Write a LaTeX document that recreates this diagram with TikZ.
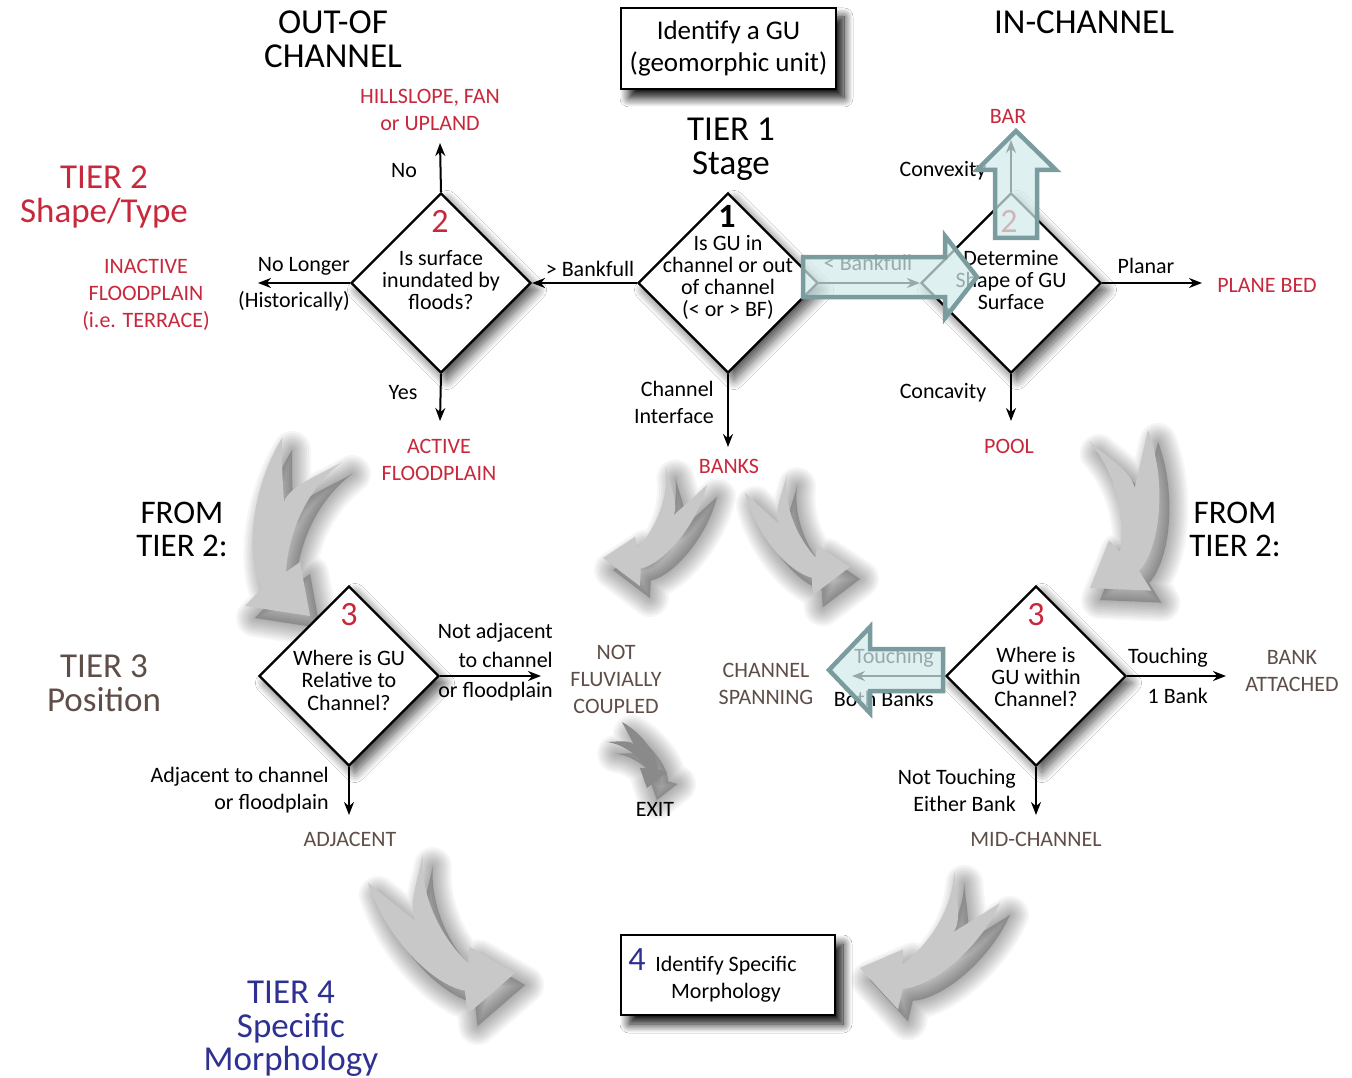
\documentclass[tikz,border=0pt]{standalone}
\usepackage{fontspec}
\setmainfont{Carlito}
\usetikzlibrary{shapes.geometric,arrows.meta,shadows.blur}
\definecolor{gred}{HTML}{C8283C}
\definecolor{gbrown}{HTML}{5F4E47}
\definecolor{gblue}{HTML}{2E3192}
\definecolor{tfill}{HTML}{D4EBEC}
\definecolor{tbord}{HTML}{7B9C9E}
\definecolor{ggrey}{HTML}{C8C8C8}
\definecolor{gdark}{HTML}{8A8A8A}
\newcommand\fs[2]{\fontsize{#1}{#2}\selectfont}
\newcommand\gshape{(0,0) .. controls (-32,52) and (-37,122) .. (-20,150) -- (-37,168) -- (28,178) -- (18,124) -- (4,134) .. controls (6,97) and (23,52) .. (60,24) .. controls (38,37) and (8,47) .. (2,64) .. controls (0,32) .. (0,0) -- cycle}
\newcommand\garrow[6]{%
 \begin{scope}[shift={(#1+10,#2+12)},rotate=#3,scale=#4,xscale=#5]
  \foreach \ww in {38,34,...,2}{\draw[line width=\ww pt,black,opacity=0.035,line join=round]\gshape;}
  \fill[black,opacity=0.2]\gshape;
 \end{scope}
 \begin{scope}[shift={(#1,#2)},rotate=#3,scale=#4,xscale=#5]
  \fill[#6]\gshape;
 \end{scope}}
\begin{document}
\begin{tikzpicture}[x=1pt,y=-1pt,
  lab/.style={inner sep=0pt,font=\fs{22}{27},align=center},
  hd/.style={inner sep=0pt,font=\fs{35}{34},align=center},
  num/.style={inner sep=0pt,font=\fs{34}{34}},
  dia/.style={diamond,draw,line width=2.2pt,fill=white,minimum width=180pt,minimum height=180pt,inner sep=0pt,
    blur shadow={shadow xshift=6pt,shadow yshift=-7pt,shadow blur radius=10pt,shadow blur steps=12,shadow opacity=70}},
  box/.style={rectangle,draw,line width=2.8pt,fill=white,inner sep=2pt,align=center,
    blur shadow={shadow xshift=8pt,shadow yshift=-9pt,shadow blur radius=9pt,shadow blur steps=12,shadow opacity=95}},
  arr/.style={line width=2pt,-{Stealth[length=13pt,width=10pt]}},
  ovl/.style={draw=tbord,line width=4.5pt,fill=tfill,fill opacity=0.72,line join=miter}]
\useasboundingbox (0,0) rectangle (1352,1078);
\fill[white] (0,0) rectangle (1352,1078);

% grey curved arrows
\garrow{282}{438}{0}{1}{1}{ggrey}
\garrow{1148}{430}{-11.2}{0.934}{-1}{ggrey}
\garrow{707}{485}{-46}{0.705}{-1}{ggrey}
\garrow{745}{493}{45.9}{0.713}{1}{ggrey}
\garrow{368}{883}{49.6}{0.957}{1}{ggrey}
\garrow{1000}{903}{-56.2}{0.857}{-1}{ggrey}
\garrow{622}{722}{29.6}{0.392}{-1}{gdark}

% diamonds
\node[dia] (D1) at (728,283) {};
\node[dia] (D2L) at (441,283) {};
\node[dia] (D2R) at (1011,283) {};
\node[dia] (D3L) at (349,676) {};
\node[dia] (D3R) at (1036,676) {};

% boxes
\node[box,minimum width=215pt,minimum height=81pt,font=\fs{27}{32}] (top) at (728.5,48.5) {Identify a GU\\(geomorphic unit)};
\node[box,minimum width=214pt,minimum height=80pt] (bot) at (728,975) {};
\node[inner sep=0pt,font=\fs{34}{34},text=gblue] (n4) at (637,960) {4};
\node[lab] (t4) at (726,979) {Identify Specific\\Morphology};

% diamond texts
\node[num,font=\fs{34}{34}\bfseries] (n1) at (727,216) {1};
\node[lab,font=\fs{22}{22}] (q1) at (728,277) {Is GU in\\channel or out\\of channel\\(< or > BF)};
\node[num,text=gred] (n2L) at (440,221) {2};
\node[lab,font=\fs{22}{22}] (q2L) at (441,280) {Is surface\\inundated by\\floods?};
\node[num,text=gred] (n2R) at (1009,221) {2};
\node[lab,font=\fs{22}{22}] (q2R) at (1011,280) {Determine\\Shape of GU\\Surface};
\node[num,text=gred] (n3L) at (349,615) {3};
\node[lab,font=\fs{22}{22.5}] (q3L) at (349,680) {Where is GU\\Relative to\\Channel?};
\node[num,text=gred] (n3R) at (1036,615) {3};
\node[lab,font=\fs{22}{22}] (q3R) at (1036,677) {Where is\\GU within\\Channel?};

% headings
\node[hd] (hOut) at (333,39) {OUT-OF\\CHANNEL};
\node[hd] (hIn) at (1084,22) {IN-CHANNEL};
\node[hd] (hT1) at (731,149) {TIER 1\\Stage};
\node[hd,text=gred] (hT2) at (104,197) {TIER 2\\Shape/Type};
\node[hd,text=gbrown] (hT3) at (104,683) {TIER 3\\Position};
\node[hd,text=gblue,font=\fs{35}{33.5}] (hT4) at (291,1029) {TIER 4\\Specific\\Morphology};
\node[hd,font=\fs{33}{33}] (fL) at (182,529) {FROM\\TIER 2:};
\node[hd,font=\fs{33}{33}] (fR) at (1235,529) {FROM\\TIER 2:};

% outcome labels
\node[lab,text=gred] (hill) at (430,110) {HILLSLOPE, FAN\\or UPLAND};
\node[lab,text=gred] (inact) at (146,295) {INACTIVE\\FLOODPLAIN\\(i.e. TERRACE)};
\node[lab,text=gred] (act) at (439,460) {ACTIVE\\FLOODPLAIN};
\node[lab,text=gred] (banks) at (729,466) {BANKS};
\node[lab,text=gred] (bar) at (1008,116) {BAR};
\node[lab,text=gred] (plane) at (1267,285) {PLANE BED};
\node[lab,text=gred] (pool) at (1009,446) {POOL};
\node[lab,text=gbrown] (nfc) at (616,679) {NOT\\FLUVIALLY\\COUPLED};
\node[lab,text=gbrown] (span) at (766,684) {CHANNEL\\SPANNING};
\node[lab,text=gbrown] (batt) at (1292,671) {BANK\\ATTACHED};
\node[lab,text=gbrown] (adj) at (350,839) {ADJACENT};
\node[lab,text=gbrown] (mid) at (1036,839) {MID-CHANNEL};
\node[lab] (exit) at (655,809) {EXIT};

% branch labels
\node[lab] (lNo) at (404,171) {No};
\node[lab,anchor=east] (lNoL) at (350,266) {No Longer};
\node[lab,anchor=east] (lHist) at (350,301) {(Historically)};
\node[lab] (lGT) at (590,269) {> Bankfull};
\node[lab] (lYes) at (403,393) {Yes};
\node[lab,align=right,anchor=east] (lCI) at (714,402) {Channel\\Interface};
\node[lab] (lConv) at (943,171) {Convexity};
\node[lab] (lLT) at (868,263) {< Bankfull};
\node[lab] (lPlan) at (1146,266) {Planar};
\node[lab] (lConc) at (943,393) {Concavity};
\node[lab,align=right,anchor=east,font=\fs{22}{29.5}] (lNA) at (553,662) {Not adjacent\\to channel\\or floodplain};
\node[lab,align=right,anchor=east] (lAd) at (329,790) {Adjacent to channel\\or floodplain};
\node[lab,anchor=east] (lT1) at (934,658) {Touching};
\node[lab,anchor=east] (lBB) at (934,699) {Both Banks};
\node[lab,anchor=east] (lT2) at (1208,658) {Touching};
\node[lab,anchor=east] (l1B) at (1208,696) {1 Bank};
\node[lab,align=right,anchor=east] (lNT) at (1016,790) {Not Touching\\Either Bank};

% free ends
\coordinate (e1) at (440,143);
\coordinate (e2) at (258,283);
\coordinate (e3) at (440,421);
\coordinate (e4) at (728,447);
\coordinate (e5) at (1011,140);
\coordinate (e6) at (1202,283);
\coordinate (e7) at (1011,421);
\coordinate (e8) at (541,676);
\coordinate (e9) at (349,815);
\coordinate (e10) at (852,676);
\coordinate (e11) at (1226,676);
\coordinate (e12) at (1036,815);

% connectors
\draw[arr] (D2L.north) -- (e1);
\draw[arr] (D2L.west) -- (e2);
\draw[arr] (D1.west) -- (D2L.east);
\draw[arr] (D2L.south) -- (e3);
\draw[arr] (D1.south) -- (e4);
\draw[arr] (D1.east) -- (D2R.west);
\draw[arr] (D2R.north) -- (e5);
\draw[arr] (D2R.east) -- (e6);
\draw[arr] (D2R.south) -- (e7);
\draw[arr] (D3L.east) -- (e8);
\draw[arr] (D3L.south) -- (e9);
\draw[arr] (D3R.west) -- (e10);
\draw[arr] (D3R.east) -- (e11);
\draw[arr] (D3R.south) -- (e12);

% translucent block arrows
\path[ovl] (803,257) -- (945,257) -- (945,236) -- (977,277) -- (945,318) -- (945,297) -- (803,297) -- cycle;
\path[ovl] (995,238) -- (995,170) -- (977,170) -- (1016,131) -- (1056,170) -- (1037,170) -- (1037,238) -- cycle;
\path[ovl] (943,649) -- (870,649) -- (870,627) -- (829,670) -- (870,713) -- (870,691) -- (943,691) -- cycle;
\end{tikzpicture}
\end{document}
